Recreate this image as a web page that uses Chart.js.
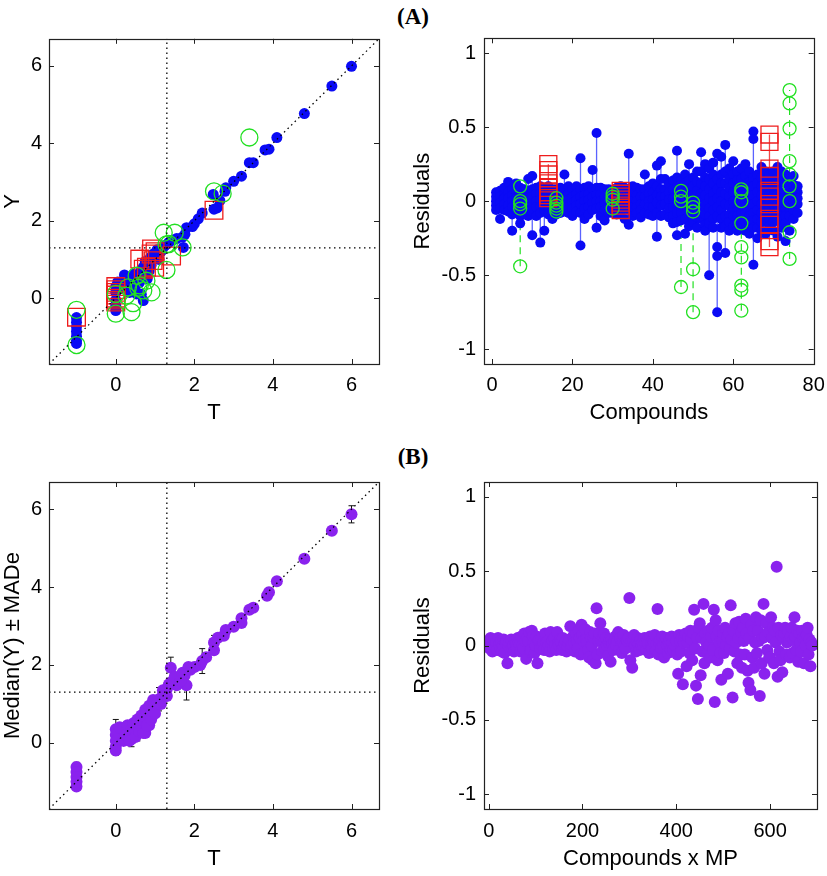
<!DOCTYPE html>
<html>
<head>
<meta charset="utf-8">
<script src="https://cdn.jsdelivr.net/npm/chart.js@4.4.0/dist/chart.umd.min.js"></script>
<style>
body { margin: 0; background: #fff; width: 827px; height: 876px; position: relative; overflow: hidden; }
canvas { position: absolute; }
.tag { position: absolute; font: bold 23px "Liberation Serif", "Times New Roman", serif; transform: translate(-50%, -50%); }
</style>
</head>
<body>
<div class="tag" style="left:413px;top:17px">(A)</div>
<div class="tag" style="left:413px;top:457px">(B)</div>
<canvas id="aFit" width="400" height="405" style="left:0;top:25px"></canvas>
<canvas id="aRes" width="417" height="405" style="left:410px;top:25px"></canvas>
<canvas id="bFit" width="400" height="406" style="left:0;top:470px"></canvas>
<canvas id="bRes" width="417" height="406" style="left:410px;top:470px"></canvas>
<script>
// ---- axes ----
const THRESHOLD = 1.3;
const fitRange = [-1.7, 6.7];
const fitTicks = [0, 2, 4, 6];
const resRange = [-1.1, 1.1];
const resTicks = [-1, -0.5, 0, 0.5, 1];
const compRange = [-2, 80];
const compTicks = [0, 20, 40, 60, 80];
const mpRange = [-10, 700];
const mpTicks = [0, 200, 400, 600];

// ---- (A) Y vs T ----
const blueT = [6.0, 5.5, 4.8, 4.1, 3.9, 3.8, 3.5, 3.4, 3.2, 3.0, 2.8, 2.78, 2.65, 2.58, 2.5, 2.48, 2.2, 2.1, 2.0, 1.95,
  1.8, 1.76, 1.7, 1.72, 1.55, 1.45, 1.35, 1.25, 1.15, 1.05, 1.0, 0.95, 0.88, 0.8, 0.75, 0.7, 0.65, 0.6, 0.55, 0.45,
  0.4, 0.3, 0.22, 0.2, 0.1, 0.05, 0.0, 0.0, 0.0, 0.0, 0.0, 0.27, 0.4, 0.5, 0.53, 0.7, 0.65, 0.8, 0.85, 0.9,
  1.1, -1.0, -1.0, -1.0, -1.0, -1.0, -1.0, -1.0, 0.35, 0.6, 0.9, 1.2];
const blueY = [5.99, 5.48, 4.77, 4.15, 3.85, 3.83, 3.5, 3.5, 3.15, 3.02, 2.85, 2.76, 2.52, 2.33, 2.3, 2.68, 2.2, 2.05, 1.92, 1.85,
  1.82, 1.65, 1.58, 1.31, 1.54, 1.5, 1.44, 1.36, 1.2, 1.25, 1.1, 1.14, 1.05, 0.9, 0.95, 0.8, 0.72, 0.62, 0.55, 0.62,
  0.45, 0.5, 0.6, 0.35, 0.25, 0.42, 0.3, 0.15, -0.05, -0.2, -0.32, 0.37, 0.28, 0.2, 0.11, -0.06, 0.1, 0.5, 0.7, 0.85,
  1.0, -0.5, -0.62, -0.74, -0.86, -0.98, -1.1, -1.17, 0.15, 0.4, 0.95, 1.3];
const greenT = [3.4, 2.5, 2.72, 1.22, 1.5, 1.29, 1.7, 1.29, -1.0, -1.0, 0.0, 0.4, 0.44, 0.53, 0.61, 0.78, 0.91, 0.7, 0.31, 0.27, 0.0, 1.35, 0.57];
const greenY = [4.15, 2.76, 2.7, 1.69, 1.69, 1.39, 1.31, 0.73, -0.3, -1.21, -0.4, -0.36, -0.13, 0.58, 0.33, 0.45, 0.15, 0.2, 0.28, 0.07, 0.11, 1.4, 0.27];
const redT = [-1.0, 0, 0, 0, 0, 0, 0, 0, 2.5, 0.61, 0.7, 0.9, 0.95, 1.42, 0.99, 0.91, 0.78, 1.0];
const redY = [-0.49, 0.3, 0.22, 0.15, 0.08, 0.0, -0.05, -0.1, 2.27, 1.01, 0.75, 1.14, 0.97, 1.09, 0.8, 1.27, 0.8, 1.2];

// ---- (A) residuals per compound (row i = compound i+1) ----
const blueRes = [
  [0.06, 0.03, 0.0, -0.03, -0.06], [0.07, 0.03, -0.01, -0.05, -0.12], [0.05, 0.02, -0.02, -0.06, 0.09],
  [0.13, 0.06, 0.02, -0.03, -0.07], [0.08, 0.04, 0.0, -0.04, -0.09, -0.2], [0.12, 0.07, 0.03, -0.02, -0.06],
  [0.09, 0.04, 0.0, -0.05, -0.1, -0.15], [0.08, 0.03, -0.01, -0.05, -0.09], [0.15, 0.07, 0.03, -0.02, -0.07, -0.1],
  [0.17, 0.08, 0.03, -0.02, -0.07, -0.23], [0.09, 0.05, 0.0, -0.04, -0.1], [0.1, 0.05, 0.01, -0.04, -0.08, -0.28],
  [0.07, 0.03, -0.02, -0.06, -0.2], [0.1, 0.05, 0.0, -0.05, -0.09], [0.08, 0.03, -0.01, -0.06, -0.12],
  [0.08, 0.04, 0.0, -0.04, -0.09], [0.09, 0.04, 0.0, -0.04, -0.08], [0.18, 0.08, 0.03, -0.02, -0.07],
  [0.1, 0.05, 0.01, -0.04, -0.08], [0.08, 0.03, -0.01, -0.05, -0.1], [0.1, 0.05, 0.01, -0.03, -0.07],
  [0.29, 0.08, 0.03, -0.02, -0.08, -0.3], [0.09, 0.04, 0.0, -0.05, -0.12], [0.1, 0.05, 0.01, -0.04, -0.09],
  [0.21, 0.08, 0.03, -0.01, -0.06], [0.46, 0.09, 0.04, 0.0, -0.05, -0.18], [0.09, 0.05, 0.0, -0.04, -0.1],
  [0.08, 0.03, -0.01, -0.06, -0.13], [0.08, 0.04, 0.0, -0.04, -0.08], [0.07, 0.03, -0.01, -0.05, -0.08],
  [0.09, 0.05, 0.01, -0.03, -0.09], [0.1, 0.05, 0.01, -0.04, -0.08], [0.09, 0.04, 0.0, -0.05, -0.12],
  [0.32, 0.08, 0.03, -0.02, -0.06, -0.16], [0.1, 0.05, 0.0, -0.04, -0.1], [0.09, 0.04, 0.0, -0.04, -0.08],
  [0.08, 0.03, -0.02, -0.06, -0.11], [0.18, 0.08, 0.03, -0.02, -0.08], [0.1, 0.05, 0.0, -0.04, -0.09],
  [0.12, 0.06, 0.01, -0.04, -0.1], [0.24, 0.1, 0.04, -0.01, -0.08, -0.24], [0.27, 0.15, 0.08, 0.03, -0.03, -0.1],
  [0.15, 0.08, 0.03, -0.02, -0.09], [0.12, 0.06, 0.01, -0.05, -0.11], [0.14, 0.08, 0.02, -0.04, -0.1, -0.15],
  [0.34, 0.16, 0.1, 0.04, -0.02, -0.08, -0.14, -0.23], [0.14, 0.08, 0.03, -0.03, -0.08, -0.13],
  [0.18, 0.12, 0.05, 0.0, -0.06, -0.12, -0.22], [0.25, 0.14, 0.08, 0.02, -0.04, -0.1, -0.17],
  [0.16, 0.1, 0.04, -0.02, -0.08, -0.14], [0.2, 0.13, 0.07, 0.01, -0.05, -0.11, -0.18],
  [0.33, 0.2, 0.12, 0.05, -0.01, -0.07, -0.12], [0.25, 0.16, 0.1, 0.04, -0.02, -0.09, -0.16, -0.2],
  [0.22, 0.15, 0.08, 0.02, -0.05, -0.1, -0.15, -0.5], [0.26, 0.18, 0.12, 0.05, 0.0, -0.06, -0.12, -0.18],
  [0.32, 0.15, 0.08, 0.02, -0.04, -0.1, -0.31, -0.37, -0.75], [0.3, 0.18, 0.12, 0.06, 0.0, -0.06, -0.12, -0.18],
  [0.38, 0.2, 0.12, 0.05, -0.02, -0.1, -0.17, -0.35], [0.22, 0.15, 0.09, 0.03, -0.03, -0.09, -0.14, -0.2],
  [0.27, 0.18, 0.12, 0.06, 0.0, -0.05, -0.1, -0.17], [0.2, 0.14, 0.08, 0.02, -0.04, -0.1, -0.15, -0.2],
  [0.22, 0.15, 0.1, 0.04, -0.02, -0.08, -0.12, -0.16], [0.25, 0.17, 0.1, 0.04, -0.02, -0.08, -0.14, -0.2],
  [0.2, 0.13, 0.06, 0.0, -0.05, -0.1, -0.15, -0.22], [0.47, 0.42, 0.16, 0.1, 0.04, -0.02, -0.08, -0.13, -0.18, -0.43],
  [0.18, 0.12, 0.06, 0.0, -0.06, -0.12, -0.18, -0.25], [0.23, 0.16, 0.1, 0.04, -0.02, -0.08, -0.14, -0.2],
  [0.2, 0.14, 0.08, 0.02, -0.03, -0.09, -0.14, -0.22], [0.18, 0.12, 0.05, 0.0, -0.05, -0.12, -0.17],
  [0.2, 0.14, 0.1, 0.04, -0.02, -0.08, -0.14, -0.2], [0.23, 0.16, 0.1, 0.04, -0.02, -0.08, -0.13, -0.24],
  [0.2, 0.13, 0.06, 0.0, -0.05, -0.1, -0.18], [0.18, 0.12, 0.05, 0.0, -0.05, -0.1, -0.15, -0.27],
  [0.15, 0.1, 0.05, 0.0, -0.05, -0.1, -0.2], [0.17, 0.11, 0.06, 0.0, -0.06, -0.12], [0.1, 0.06, 0.02, -0.02, -0.08]
];
const greenComp = [7, 16, 30, 47, 50, 62, 74];
const greenRes = [
  [0.1, 0.0, -0.02, -0.05, -0.44], [0.02, -0.01, -0.03, -0.05, -0.07], [0.05, 0.03, 0.01, -0.05],
  [0.07, 0.03, 0.0, -0.58], [-0.01, -0.04, -0.07, -0.46, -0.75],
  [0.08, 0.06, 0.0, -0.15, -0.31, -0.38, -0.57, -0.6, -0.74],
  [0.75, 0.66, 0.49, 0.27, 0.18, 0.1, 0.0, -0.21, -0.39]
];
const redComp = [14, 32, 69];
const redRes = [
  [0.25, 0.21, 0.18, 0.12, 0.09, 0.06, 0.04, 0.02],
  [0.07, 0.05, 0.03, 0.01, -0.01, -0.03, -0.06],
  [0.45, 0.4, 0.22, 0.17, 0.07, 0.03, -0.02, -0.12, -0.16, -0.27, -0.31]
];

// ---- (B) median(Y) +/- MADe ----
const medT = [6.0, 5.5, 4.8, 4.1, 3.9, 3.85, 3.5, 3.4, 3.2, 3.2, 3.0, 2.8, 2.75, 2.6, 2.5, 2.5, 2.3, 2.2, 2.15, 2.0,
  1.9, 1.75, 1.8, 1.6, 1.55, 1.4, 1.4, 1.3, 1.2, 1.1, 1.0, 0.95, 0.9, 0.85, 0.8, 0.75, 0.7, 0.65, 0.6, 0.55,
  0.5, 0.45, 0.4, 0.35, 0.3, 0.25, 0.2, 0.15, 0.1, 0.0, 0.0, 0.0, 0.0, 0.0, 0.75, 0.85, 1.0,
  -1.0, -1.0, -1.0, -1.0, -1.0,
  0.05, 0.1, 0.2, 0.25, 0.3, 0.35, 0.4, 0.45, 0.5, 0.55, 0.6, 0.65, 0.7, 0.75, 0.8, 0.85, 0.9, 0.95, 1.0, 1.05,
  1.15, 1.2, 1.3, 1.35, 1.5, 1.65, 1.7, 1.85];
const medY = [5.87, 5.45, 4.73, 4.15, 3.87, 3.78, 3.47, 3.42, 3.2, 3.08, 2.98, 2.9, 2.75, 2.7, 2.58, 2.38, 2.2, 2.1, 2.0, 1.95,
  1.88, 1.72, 1.48, 1.55, 1.48, 1.93, 1.55, 1.38, 1.22, 1.12, 1.05, 0.95, 0.85, 0.7, 0.78, 0.6, 0.5, 0.38, 0.55, 0.3,
  0.45, 0.2, 0.1, 0.3, 0.15, 0.4, 0.25, 0.35, 0.18, 0.35, 0.2, 0.05, -0.1, -0.2, 0.25, 0.45, 0.9,
  -0.62, -0.75, -0.88, -1.0, -1.12,
  0.1, 0.4, 0.05, 0.2, 0.45, 0.05, 0.35, 0.5, 0.15, 0.6, 0.3, 0.7, 0.25, 0.85, 0.45, 0.95, 0.6, 1.1, 0.75, 1.0,
  1.0, 1.35, 1.2, 1.5, 1.7, 1.6, 1.8, 1.95];
const medMad = [0.22, 0.06, 0.06, 0.05, 0.12, 0.12, 0.05, 0.05, 0.06, 0.06, 0.05, 0.06, 0.06, 0.1, 0.18, 0.1, 0.1, 0.32, 0.06, 0.05,
  0.06, 0.15, 0.38, 0.1, 0.06, 0.27, 0.08, 0.06, 0.05, 0.3, 0.06, 0.06, 0.06, 0.08, 0.06, 0.1, 0.08, 0.1, 0.1, 0.25,
  0.06, 0.08, 0.2, 0.1, 0.06, 0.06, 0.06, 0.08, 0.06, 0.25, 0.06, 0.06, 0.1, 0.12, 0.1, 0.06, 0.06,
  0.12, 0.06, 0.06, 0.06, 0.08,
  0.05, 0.05, 0.05, 0.05, 0.05, 0.05, 0.05, 0.05, 0.05, 0.05, 0.05, 0.05, 0.05, 0.05, 0.05, 0.05, 0.05, 0.05, 0.05, 0.05,
  0.05, 0.05, 0.05, 0.05, 0.05, 0.05, 0.05, 0.05];

// ---- (B) residuals, compounds x MP (one value every MP_STEP) ----
const MP_STEP = 2;
const mpRes = [
  0.03, -0.02, 0.05, 0.0, -0.04, 0.02, 0.04, -0.01, 0.02, -0.03, 0.05, 0.01, -0.02, 0.03, -0.04,
  0.0, 0.04, -0.05, 0.02, 0.03, -0.12, 0.0, 0.02, -0.03, 0.04, -0.02, 0.0, -0.04, 0.03, 0.01,
  -0.02, 0.05, 0.02, 0.01, -0.04, 0.06, 0.0, -0.02, 0.08, 0.03, -0.09, 0.05, 0.03, 0.09, -0.04,
  -0.03, 0.1, 0.06, 0.02, -0.05, 0.0, 0.06, -0.12, 0.03, 0.04, -0.02, 0.05, 0.0, 0.02, -0.03,
  0.08, 0.02, -0.03, 0.03, 0.0, -0.04, 0.09, 0.01, 0.03, -0.02, 0.05, 0.0, -0.03, 0.09, 0.02,
  0.0, 0.04, 0.02, -0.03, 0.05, -0.01, 0.01, 0.03, -0.04, 0.0, 0.02, 0.04, 0.13, -0.02, 0.0,
  0.06, 0.02, -0.04, 0.08, 0.03, -0.02, 0.1, 0.05, -0.06, 0.14, 0.07, 0.03, -0.05, 0.11, 0.04,
  0.02, -0.03, -0.08, 0.09, 0.05, 0.0, -0.1, 0.05, 0.08, -0.12, 0.25, -0.06, 0.03, 0.08, 0.15,
  0.03, -0.04, 0.06, 0.08, -0.02, 0.05, 0.0, -0.07, 0.02, 0.04, -0.11, 0.04, 0.01, -0.03, 0.03,
  0.06, 0.0, 0.03, 0.09, -0.03, 0.05, 0.02, -0.05, 0.02, 0.07, 0.0, -0.02, 0.04, 0.03, 0.05,
  0.32, -0.1, 0.03, -0.15, 0.03, 0.07, 0.0, -0.04, 0.02, 0.05, 0.01, -0.03, 0.04, 0.0, 0.02,
  0.0, 0.05, 0.02, -0.03, 0.03, 0.01, -0.05, 0.06, 0.0, -0.02, 0.04, 0.02, 0.07, -0.03, 0.01,
  0.245, -0.06, 0.02, 0.04, -0.02, 0.06, 0.0, -0.08, 0.03, 0.05, 0.0, -0.05, 0.02, 0.04, -0.03,
  0.06, 0.02, -0.03, 0.05, 0.0, 0.03, -0.06, -0.19, 0.07, 0.03, -0.04, 0.05, -0.26, 0.02, 0.06,
  0.08, -0.14, 0.02, 0.06, -0.05, 0.1, 0.04, -0.1, 0.08, 0.24, -0.02, -0.27, 0.05, -0.36, 0.12,
  0.15, -0.2, 0.05, -0.04, 0.28, -0.12, 0.08, 0.02, -0.05, 0.1, 0.0, -0.08, 0.06, 0.12, -0.03,
  0.24, -0.38, 0.17, 0.06, -0.1, 0.1, 0.02, -0.05, -0.23, 0.03, 0.08, -0.05, 0.12, 0.0, 0.06,
  -0.19, 0.08, -0.02, 0.27, 0.04, -0.35, 0.1, -0.04, 0.15, 0.02, -0.12, 0.05, 0.16, -0.06, 0.09,
  -0.15, 0.12, 0.03, -0.06, 0.18, 0.08, -0.17, -0.25, 0.05, -0.3, 0.14, -0.08, 0.1, -0.15, 0.02,
  0.19, -0.05, 0.1, 0.03, -0.34, 0.17, -0.12, 0.05, 0.28, -0.19, 0.06, 0.15, -0.03, 0.09, -0.08,
  -0.08, 0.19, 0.05, 0.12, -0.12, 0.1, 0.02, 0.53, -0.21, 0.12, -0.04, -0.1, 0.07, -0.18, 0.05,
  0.08, 0.12, -0.06, 0.02, 0.1, 0.03, -0.08, 0.06, 0.12, -0.05, 0.04, 0.19, 0.06, -0.03, 0.1,
  -0.11, 0.08, 0.02, -0.04, 0.1, 0.05, -0.12, 0.05, 0.0, 0.07, 0.12, -0.06, 0.04, -0.14, 0.02,
  0.0
];

const FONT = '"Liberation Sans", Arial, sans-serif';
const BLUE = '#0a0af5';
const GREEN = '#22e022';
const RED = '#ee1c1c';
const PURPLE = '#8a22ee';

// box + inward ticks on all four sides
const framePlugin = {
  id: 'frame',
  afterDraw(chart) {
    const { ctx, chartArea: a, scales } = chart;
    ctx.save();
    ctx.strokeStyle = '#222';
    ctx.lineWidth = 1;
    ctx.beginPath();
    scales.x.ticks.forEach(t => {
      const px = Math.round(scales.x.getPixelForValue(t.value)) + 0.5;
      ctx.moveTo(px, a.bottom); ctx.lineTo(px, a.bottom - 5);
      ctx.moveTo(px, a.top); ctx.lineTo(px, a.top + 5);
    });
    scales.y.ticks.forEach(t => {
      const py = Math.round(scales.y.getPixelForValue(t.value)) + 0.5;
      ctx.moveTo(a.left, py); ctx.lineTo(a.left + 5, py);
      ctx.moveTo(a.right, py); ctx.lineTo(a.right - 5, py);
    });
    ctx.stroke();
    ctx.lineWidth = 1.2;
    ctx.strokeRect(Math.round(a.left) + 0.5, Math.round(a.top) + 0.5, Math.round(a.right - a.left), Math.round(a.bottom - a.top));
    ctx.restore();
  }
};

// vertical MADe bars behind the medians
const errorBarPlugin = {
  id: 'errorBars',
  beforeDatasetsDraw(chart, args, opts) {
    if (!opts.t) return;
    const { ctx, scales: { x, y } } = chart;
    ctx.save();
    ctx.strokeStyle = '#111';
    ctx.lineWidth = 1;
    ctx.beginPath();
    opts.t.forEach((t, i) => {
      const px = x.getPixelForValue(t);
      const hi = y.getPixelForValue(opts.y[i] + opts.e[i]);
      const lo = y.getPixelForValue(opts.y[i] - opts.e[i]);
      ctx.moveTo(px, hi); ctx.lineTo(px, lo);
      ctx.moveTo(px - 3, hi); ctx.lineTo(px + 3, hi);
      ctx.moveTo(px - 3, lo); ctx.lineTo(px + 3, lo);
    });
    ctx.stroke();
    ctx.restore();
  }
};

function axis(range, ticks, title, size, pad, titlePad) {
  return {
    type: 'linear', min: range[0], max: range[1],
    afterBuildTicks: s => { s.ticks = ticks.map(v => ({ value: v })); },
    afterFit: s => {
      if (s.isHorizontal()) s.height = size; else s.width = size;
      s.paddingTop = 0; s.paddingBottom = 0; s.paddingLeft = 0; s.paddingRight = 0;
    },
    grid: { display: false, drawTicks: false },
    border: { display: false },
    ticks: { color: '#000', font: { family: FONT, size: 20 }, padding: pad, maxRotation: 0, autoSkip: false, callback: v => String(v) },
    title: { display: true, text: title, color: '#000', font: { family: FONT, size: 22 }, padding: titlePad }
  };
}

function pts(xs, ys) {
  return xs.map((x, i) => ({ x: x, y: ys[i] }));
}

function refLines() {
  const dash = { showLine: true, pointRadius: 0, borderColor: '#000', borderWidth: 1.3, borderDash: [1.5, 3.5], order: -1 };
  return [
    Object.assign({ data: [{ x: fitRange[0], y: fitRange[0] }, { x: fitRange[1], y: fitRange[1] }] }, dash),
    Object.assign({ data: [{ x: THRESHOLD, y: fitRange[0] }, { x: THRESHOLD, y: fitRange[1] }] }, dash),
    Object.assign({ data: [{ x: fitRange[0], y: THRESHOLD }, { x: fitRange[1], y: THRESHOLD }] }, dash)
  ];
}

// residual rows -> points, and min-max stems separated by gaps
function resPoints(comps, rows) {
  return rows.flatMap((vals, i) => vals.map(v => ({ x: comps[i], y: v })));
}
function resStems(comps, rows) {
  return rows.flatMap((vals, i) => [
    { x: comps[i], y: Math.min(...vals) },
    { x: comps[i], y: Math.max(...vals) },
    { x: comps[i], y: null }
  ]);
}
const blueComp = blueRes.map((_, i) => i + 1);

Chart.defaults.animation = false;
Chart.defaults.plugins.legend.display = false;
Chart.defaults.plugins.tooltip.enabled = false;

function make(id, datasets, scales, padding, extra) {
  return new Chart(document.getElementById(id), {
    type: 'scatter',
    data: { datasets: datasets },
    options: {
      responsive: false,
      layout: { padding: padding },
      scales: scales,
      plugins: Object.assign({ errorBars: {} }, extra || {})
    },
    plugins: [framePlugin, errorBarPlugin]
  });
}

make('aFit', [
  ...refLines(),
  { data: pts(greenT, greenY), pointStyle: 'circle', pointRadius: 8.5, backgroundColor: 'rgba(0,0,0,0)', borderColor: GREEN, borderWidth: 1.3, order: 0 },
  { data: pts(redT, redY), pointStyle: 'rect', pointRadius: 12.5, backgroundColor: 'rgba(0,0,0,0)', borderColor: RED, borderWidth: 1.3, order: 1 },
  { data: pts(blueT, blueY), pointRadius: 5.5, backgroundColor: BLUE, borderWidth: 0, order: 2 }
], {
  x: axis(fitRange, fitTicks, 'T', 66, 9, { top: 0, bottom: 4 }),
  y: axis(fitRange, fitTicks, 'Y', 49, 7, { top: 0, bottom: 0 })
}, { top: 12, right: 21, left: 0, bottom: 0 });

make('aRes', [
  { data: resPoints(greenComp, greenRes), pointRadius: 6.5, backgroundColor: 'rgba(0,0,0,0)', borderColor: GREEN, borderWidth: 1.3, order: 0 },
  { data: resPoints(redComp, redRes), pointStyle: 'rect', pointRadius: 12, backgroundColor: 'rgba(0,0,0,0)', borderColor: RED, borderWidth: 1.3, order: 1 },
  { data: resPoints(blueComp, blueRes), pointRadius: 5, backgroundColor: BLUE, borderWidth: 0, order: 2 },
  { data: resStems(greenComp, greenRes), showLine: true, pointRadius: 0, borderColor: GREEN, borderWidth: 1.2, borderDash: [7, 5], order: 3 },
  { data: resStems(redComp, redRes), showLine: true, pointRadius: 0, borderColor: 'rgba(238,28,28,0.8)', borderWidth: 1.3, order: 3 },
  { data: resStems(blueComp, blueRes), showLine: true, pointRadius: 0, borderColor: 'rgba(50,60,255,0.8)', borderWidth: 1.3, order: 4 }
], {
  x: axis(compRange, compTicks, 'Compounds', 66, 9, { top: 0, bottom: 4 }),
  y: axis(resRange, resTicks, 'Residuals', 74, 8, { top: 0, bottom: 0 })
}, { top: 12, right: 12, left: 0, bottom: 0 });

make('bFit', [
  ...refLines(),
  { data: pts(medT, medY), pointRadius: 6, backgroundColor: PURPLE, borderWidth: 0, order: 2 }
], {
  x: axis(fitRange, fitTicks, 'T', 67, 10, { top: 0, bottom: 4 }),
  y: axis(fitRange, fitTicks, 'Median(Y) \u00b1 MADe', 49, 7, { top: 0, bottom: 0 })
}, { top: 12, right: 21, left: 0, bottom: 0 }, { errorBars: { t: medT, y: medY, e: medMad } });

make('bRes', [
  { data: mpRes.map((v, k) => ({ x: k * MP_STEP, y: v })), pointRadius: 6, backgroundColor: PURPLE, borderWidth: 0 }
], {
  x: axis(mpRange, mpTicks, 'Compounds x MP', 67, 10, { top: 0, bottom: 4 }),
  y: axis(resRange, resTicks, 'Residuals', 74, 8, { top: 0, bottom: 0 })
}, { top: 12, right: 10, left: 0, bottom: 0 });
</script>
</body>
</html>
